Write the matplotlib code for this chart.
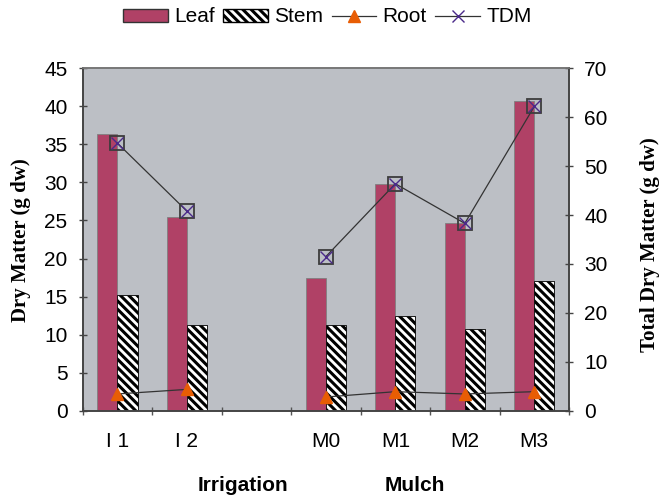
import numpy as np
import matplotlib
matplotlib.use("Agg")
import matplotlib.pyplot as plt
from matplotlib.lines import Line2D
from matplotlib.patches import Patch

categories = ["I 1", "I 2", "", "M0", "M1", "M2", "M3"]
leaf = [36.4, 25.5, np.nan, 17.4, 29.8, 24.7, 40.7]
stem = [15.2, 11.2, np.nan, 11.3, 12.5, 10.8, 17.1]
root = [2.2, 2.8, np.nan, 1.8, 2.5, 2.2, 2.5]
tdm = [54.7, 40.8, np.nan, 31.5, 46.4, 38.3, 62.2]
left_ticks = [0, 5, 10, 15, 20, 25, 30, 35, 40, 45]
right_ticks = [0, 10, 20, 30, 40, 50, 60, 70]

plt.rcParams['hatch.linewidth'] = 2.2
plt.rcParams['font.family'] = ['Liberation Sans', 'DejaVu Sans']

W, H = 670, 498
fig = plt.figure(figsize=(W / 100, H / 100), dpi=100)
ax = fig.add_axes([82.7 / W, 1 - 410.7 / H, (569 - 82.7) / W, (410.7 - 68.3) / H])
ax2 = ax.twinx()

bg = '#bcbfc5'
ax.set_facecolor(bg)
x = np.arange(len(categories))
w = 0.29
leaf_c = '#b04166'
ax.bar(x - w/2, leaf, width=w, color=leaf_c, edgecolor='#808080', linewidth=0.6, zorder=2)
ax.bar(x + w/2, stem, width=w, color='white', edgecolor='black', hatch='\\\\\\\\', linewidth=0.6, zorder=2)
ax.plot(x, root, color='#333333', linewidth=0.9, marker='^', markersize=8,
        markerfacecolor='#e85d04', markeredgecolor='#e85d04', zorder=4)

ax2.plot(x, tdm, color='#333333', linewidth=0.9, zorder=4)
ax2.plot(x, tdm, linestyle='none', marker='s', markersize=10, markerfacecolor='none',
         markeredgecolor='#3c3c3c', markeredgewidth=1.3, zorder=5)
ax2.plot(x, tdm, linestyle='none', marker='x', markersize=8.5, markeredgecolor='#4b2a8a',
         markeredgewidth=1.0, zorder=6)

ax.set_xlim(-0.5, len(categories) - 0.5)
ax.set_ylim(0, 45)
ax2.set_ylim(0, 70)
ax.set_yticks(left_ticks)
ax2.set_yticks(right_ticks)
fs = 15
ax.set_yticklabels([str(t) for t in left_ticks], fontsize=fs)
ax2.set_yticklabels([str(t) for t in right_ticks], fontsize=fs)

ax.set_xticks(x)
ax.set_xticklabels(categories, fontsize=fs)
ax.tick_params(axis='x', length=0, pad=15)
ax.set_xticks(np.arange(-0.5, len(categories), 1), minor=True)
ax.tick_params(axis='x', which='minor', length=6, direction='inout', color='#555555', width=1)
ax.tick_params(axis='y', length=6, direction='inout', color='#444444', width=1, pad=8)
ax2.tick_params(axis='y', length=6, direction='inout', color='#444444', width=1, pad=8)

for a in (ax, ax2):
    for s in ['top', 'right', 'left', 'bottom']:
        a.spines[s].set_color('#444444')
        a.spines[s].set_linewidth(1.2)
    a.spines['top'].set_color('#777777')

serif = ['Liberation Serif', 'DejaVu Serif']
fig.text(21 / W, 1 - 240 / H, 'Dry Matter (g dw)', fontsize=15, fontweight='bold', family=serif,
         rotation=90, ha='center', va='center', rotation_mode='anchor')
fig.text(650 / W, 1 - 245 / H, 'Total Dry Matter (g dw)', fontsize=15, fontweight='bold', family=serif,
         rotation=90, ha='center', va='center', rotation_mode='anchor')

fig.text(242.5 / W, 1 - 491 / H, 'Irrigation', fontsize=15, fontweight='bold', ha='center', va='baseline')
fig.text(415 / W, 1 - 491 / H, 'Mulch', fontsize=15, fontweight='bold', ha='center', va='baseline')

handles = [
    Patch(facecolor=leaf_c, edgecolor='#333333', label='Leaf'),
    Patch(facecolor='white', edgecolor='black', hatch='\\\\\\\\', label='Stem'),
    Line2D([], [], color='#333333', linewidth=0.9, marker='^', markersize=8,
           markerfacecolor='#e85d04', markeredgecolor='#e85d04', label='Root'),
    Line2D([], [], color='#333333', linewidth=0.9, marker='x', markersize=8,
           markeredgecolor='#4b2a8a', label='TDM'),
]
fig.legend(handles=handles, loc='center', bbox_to_anchor=(327.5 / W, 1 - 17 / H), ncol=4,
           frameon=False, fontsize=15, handlelength=2.15, handleheight=0.6,
           handletextpad=0.3, columnspacing=0.4, borderaxespad=0, borderpad=0)

fig.savefig('out.png', dpi=100)
